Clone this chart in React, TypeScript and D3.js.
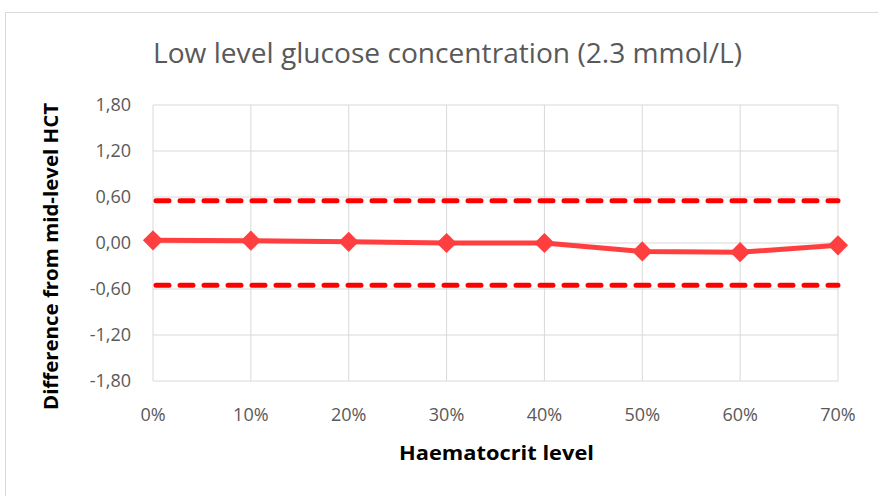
import React from "react";
import * as d3 from "d3";

const categories = ["0%", "10%", "20%", "30%", "40%", "50%", "60%", "70%"];
const differences = [0.035, 0.03, 0.015, 0.0, 0.0, -0.11, -0.12, -0.03];
const upperLimit = 0.55;
const lowerLimit = -0.55;
const yTicks = [-1.8, -1.2, -0.6, 0, 0.6, 1.2, 1.8];

const W = 878;
const H = 496;

export default function App() {
  const x = d3.scalePoint<string>().domain(categories).range([153, 838]);
  const y = d3.scaleLinear().domain([-1.8, 1.8]).range([381, 105]);
  const fmt = (v: number) => d3.format(".2f")(v).replace(".", ",").replace("−", "-");
  const line = d3
    .line<number>()
    .x((_, i) => x(categories[i]) as number)
    .y((d) => y(d));
  const x0 = x(categories[0]) as number;
  const x1 = x(categories[categories.length - 1]) as number;
  const diamond = d3.symbol(d3.symbolDiamond2, 260)();
  const font = "'Open Sans', sans-serif";

  return (
    <div style={{ position: "fixed", left: 0, top: 0 }}>
      <svg width={W} height={H} style={{ display: "block", background: "#fff" }}>
        <rect x={5.5} y={12.5} width={W + 10} height={H + 10} fill="#fff" stroke="#d9d9d9" />
        <text
          x={447.5}
          y={63}
          textAnchor="middle"
          fontFamily={font}
          fontSize={27}
          fontWeight={400}
          fill="#595959"
          textLength={589}
          lengthAdjust="spacingAndGlyphs"
        >
          Low level glucose concentration (2.3 mmol/L)
        </text>
        {yTicks.map((t) => (
          <g key={"y" + t}>
            <line x1={x0} x2={x1} y1={y(t)} y2={y(t)} stroke="#d9d9d9" strokeWidth={1} />
            <text
              x={131}
              y={y(t)}
              dy="0.36em"
              textAnchor="end"
              fontFamily={font}
              fontSize={18}
              fill="#595959"
            >
              {fmt(t)}
            </text>
          </g>
        ))}
        {categories.map((c) => (
          <g key={"x" + c}>
            <line x1={x(c)} x2={x(c)} y1={y(1.8)} y2={y(-1.8)} stroke="#d9d9d9" strokeWidth={1} />
            <text x={x(c)} y={421} textAnchor="middle" fontFamily={font} fontSize={18} fill="#595959">
              {c}
            </text>
          </g>
        ))}
        {[upperLimit, lowerLimit].map((v) => (
          <line
            key={"lim" + v}
            x1={x0 + 3}
            x2={x1}
            y1={y(v)}
            y2={y(v)}
            stroke="#ff0000"
            strokeWidth={5}
            strokeDasharray="13 11"
            strokeLinecap="round"
          />
        ))}
        <path d={line(differences) || ""} fill="none" stroke="#ff3f3f" strokeWidth={5} strokeLinejoin="round" />
        {differences.map((v, i) => (
          <path
            key={"m" + i}
            d={diamond || ""}
            transform={`translate(${x(categories[i])},${y(v)})`}
            fill="#ff3f3f"
          />
        ))}
        <text
          x={496.5}
          y={460}
          textAnchor="middle"
          fontFamily={font}
          fontSize={20}
          fontWeight={700}
          fill="#000"
          textLength={195}
          lengthAdjust="spacingAndGlyphs"
        >
          Haematocrit level
        </text>
        <text
          transform={`translate(58,256.5) rotate(-90)`}
          textAnchor="middle"
          fontFamily={font}
          fontSize={20}
          fontWeight={700}
          fill="#000"
          textLength={307}
          lengthAdjust="spacingAndGlyphs"
        >
          Difference from mid-level HCT
        </text>
      </svg>
    </div>
  );
}
